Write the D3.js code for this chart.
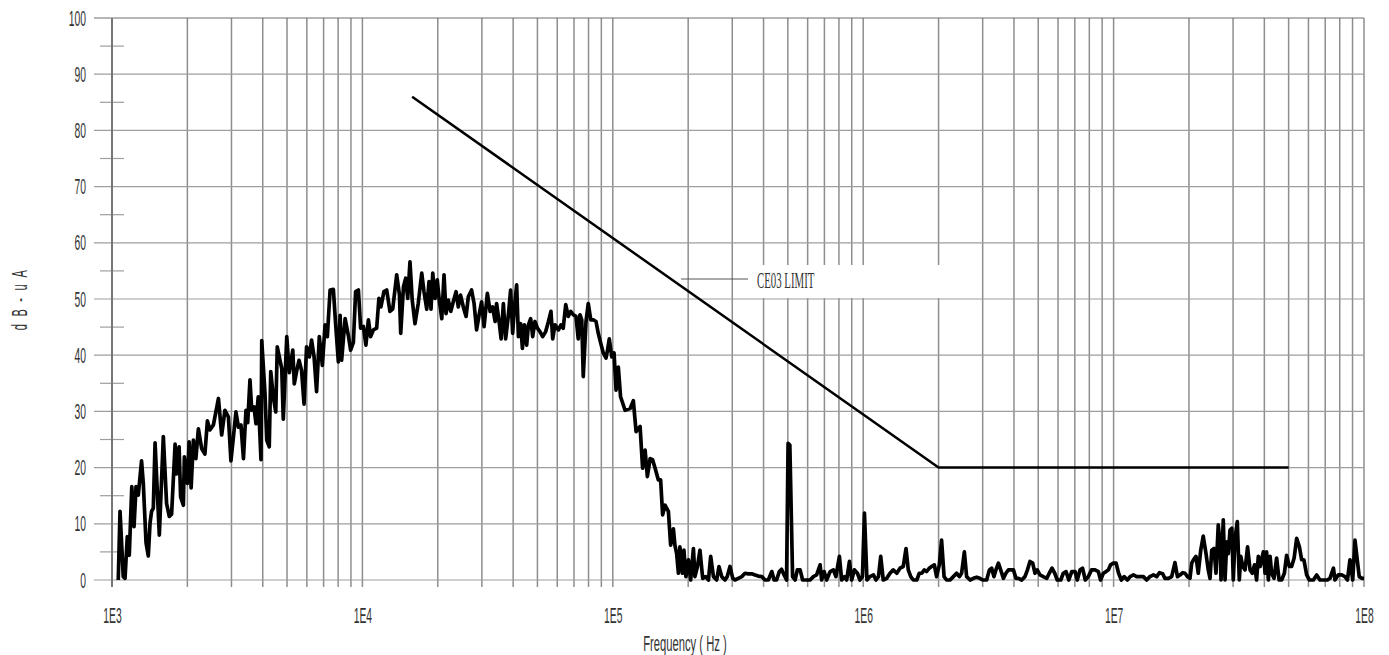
<!DOCTYPE html>
<html>
<head>
<meta charset="utf-8">
<script src="https://cdn.jsdelivr.net/npm/d3@7"></script>
<style>
  body { margin: 0; background: #fff; }
  svg { display: block; }
</style>
</head>
<body>
<div id="chart"></div>
<script>
// measured conducted emission, frequency given as log10(Hz)
const freqExp = [
  3.025,3.032,3.045,3.052,3.061,3.069,3.079,3.088,3.096,3.105,3.118,3.125,3.136,3.145,3.152,3.158,3.165,3.172,3.189,3.205,
  3.218,3.229,3.238,3.252,3.258,3.268,3.274,3.285,3.289,3.301,3.308,3.316,3.325,3.335,3.345,3.358,3.371,3.381,3.391,3.405,
  3.425,3.438,3.451,3.465,3.475,3.485,3.495,3.505,3.515,3.525,3.535,3.542,3.551,3.558,3.567,3.575,3.584,3.595,3.598,3.611,
  3.618,3.628,3.634,3.644,3.654,3.660,3.671,3.678,3.684,3.698,3.708,3.722,3.728,3.738,3.747,3.757,3.767,3.777,3.788,3.797,
  3.807,3.817,3.828,3.840,3.851,3.860,3.871,3.884,3.893,3.904,3.911,3.917,3.931,3.944,3.953,3.964,3.973,3.984,3.993,
  4.004,4.014,4.024,4.033,4.044,4.057,4.066,4.074,4.086,4.097,4.110,4.121,4.137,4.148,4.153,4.164,4.173,4.181,4.190,4.199,
  4.210,4.223,4.237,4.246,4.257,4.266,4.274,4.281,4.290,4.299,4.307,4.317,4.326,4.334,4.343,4.353,4.363,4.374,4.383,4.392,
  4.403,4.414,4.423,4.436,4.446,4.456,4.467,4.476,4.486,4.499,4.510,4.520,4.530,4.536,4.547,4.554,4.563,4.572,4.583,4.592,
  4.600,4.607,4.616,4.623,4.632,4.639,4.647,4.656,4.663,4.672,4.680,4.689,4.699,4.709,4.720,4.732,4.743,4.753,4.760,4.769,
  4.783,4.793,4.802,4.812,4.822,4.832,4.842,4.853,4.862,4.869,4.876,4.882,4.893,4.902,4.912,4.922,4.933,4.942,4.952,4.962,
  4.973,4.979,4.986,4.996,5.005,5.013,5.022,5.031,
  5.049,5.069,5.082,5.093,5.102,5.109,5.119,5.129,5.138,5.149,5.159,5.169,5.182,5.191,5.199,5.209,5.222,5.231,5.242,5.248,
  5.255,5.262,5.268,5.278,5.284,5.292,5.302,5.311,5.322,5.328,5.338,5.348,5.359,5.371,5.382,5.391,5.402,5.415,5.424,5.435,
  5.448,5.457,5.468,5.479,5.488,5.501,5.515,5.528,5.541,5.555,5.568,5.581,5.595,5.608,5.621,5.635,5.644,5.654,5.665,5.674,
  5.684,5.694,5.700,5.707,5.718,5.728,5.737,5.748,5.758,5.774,5.788,5.801,5.814,5.828,5.834,5.844,5.854,5.868,5.881,5.891,
  5.905,5.914,5.925,5.934,5.945,5.954,5.965,5.977,5.987,5.997,6.005,6.015,6.027,6.041,6.051,6.061,6.070,6.080,6.094,
  6.107,6.120,6.134,6.147,6.160,6.171,6.180,6.190,6.200,6.214,6.224,6.234,6.244,6.253,6.264,6.273,6.284,6.293,6.304,6.313,
  6.323,6.333,6.347,6.360,6.373,6.384,6.393,6.404,6.413,6.427,6.440,6.453,6.466,6.477,6.493,6.504,6.513,6.522,6.530,6.540,
  6.549,6.560,6.570,6.580,6.589,6.600,6.610,6.620,6.633,6.646,6.656,6.666,6.677,6.686,6.695,6.706,6.719,6.733,6.743,6.754,
  6.765,6.775,6.789,6.799,6.810,6.821,6.833,6.846,6.855,6.866,6.876,6.887,6.899,6.912,6.926,6.939,6.948,6.959,6.970,6.979,
  6.988,6.999,7.010,7.020,7.031,7.042,7.055,7.066,7.079,7.092,7.105,7.119,7.132,7.145,
  7.159,7.172,7.183,7.196,7.205,7.219,7.232,7.245,7.255,7.265,7.276,7.285,7.295,7.305,7.312,7.319,7.329,7.338,7.348,7.358,
  7.369,7.378,7.385,7.392,7.401,7.409,7.418,7.425,7.429,7.438,7.445,7.452,7.458,7.465,7.472,7.478,7.485,7.494,7.502,7.508,
  7.516,7.525,7.535,7.545,7.554,7.563,7.571,7.578,7.585,7.591,7.598,7.605,7.611,7.618,7.625,7.631,7.641,7.651,7.661,7.671,
  7.682,7.691,7.702,7.711,7.721,7.731,7.742,7.751,7.760,7.771,7.782,7.798,7.811,7.824,7.838,7.854,7.864,7.878,7.884,7.897,
  7.911,7.924,7.934,7.944,7.955,7.964,7.973,7.981,7.991,8.000
];

// level in dB-uA, one per freqExp entry
const level = [
  0,12.2,0.6,0.3,7.7,4.4,16.6,9.5,16.6,15.1,21.2,17.2,6.6,4.3,10.2,12.2,12.8,24.4,8.0,25.5,
  13.6,11.3,11.7,24.2,18.9,23.7,14.8,13.3,21.9,17.2,24.6,16.4,24.9,21.6,26.9,23.4,22.4,28.3,26.7,27.6,
  32.3,25.8,30.2,29.0,21.2,25.5,29.9,27.2,27.6,21.6,30.2,28.0,35.6,30.2,30.8,27.8,32.6,21.4,42.6,33.2,
  24.9,23.7,37.1,32.6,29.9,41.5,39.1,37.6,28.6,43.3,36.9,40.9,34.9,37.3,39.1,37.3,31.3,41.5,39.7,42.7,
  39.7,33.5,43.3,38.2,45.4,43.3,51.6,51.7,45.6,38.8,47.1,39.1,46.5,43.5,40.9,42.3,51.3,51.6,44.8,
  45.1,41.8,46.3,43.3,44.5,44.8,50.1,48.6,51.3,51.6,47.8,48.2,54.3,50.7,43.9,52.2,53.7,50.1,56.6,49.8,
  45.6,49.2,54.6,51.3,48.2,53.1,48.2,54.6,50.1,53.4,49.8,46.5,54.3,47.4,49.8,47.8,49.5,51.3,48.6,50.7,
  48.6,46.9,50.4,51.6,49.2,44.5,47.4,49.5,45.1,51.0,47.8,48.6,46.0,49.2,45.6,42.9,49.2,42.9,47.1,51.6,
  43.9,48.4,52.5,43.3,45.6,41.2,45.4,41.8,45.4,46.5,43.3,46.0,44.8,44.2,43.3,44.2,46.0,47.8,42.9,45.4,
  44.5,45.4,44.8,49.0,46.9,47.8,47.2,46.9,42.9,47.2,46.3,36.2,46.0,49.2,46.3,46.3,46.0,43.9,42.1,40.4,
  39.5,40.9,42.9,39.7,40.4,33.8,37.9,32.6,
  30.2,30.5,31.9,26.4,27.0,27.3,19.9,23.1,18.4,21.6,21.4,19.9,17.8,17.8,11.6,13.3,12.2,6.2,9.1,6.2,
  4.7,1.2,5.9,1.2,5.3,0.6,3.6,0,5.6,0.6,2.4,5.3,0.3,0.6,0,4.2,0.6,0,2.4,0.6,
  0,0.6,2.4,0.3,0,0.3,0.6,1.2,1.1,1.1,0.9,0.7,0.6,0,0,1.5,0,0,1.5,1.9,
  0.9,0,24.3,24.0,0.6,0,1.8,1.8,0,0,0,0.6,0.9,2.7,0,1.5,0,1.5,1.8,0.6,
  4.2,0,0.6,0,3.3,0,1.8,1.2,0,0.6,11.9,0,0.6,0.9,0,0.6,4.2,0,0.3,
  1.2,1.8,1.2,2.1,2.4,5.6,1.8,0.6,0,0,1.2,1.2,1.8,1.5,2.1,2.4,2.7,0.6,2.7,7.1,
  0.6,0,0,0.6,1.2,0.6,1.2,5.0,0.6,0,0.3,0.5,0.3,0,0,1.8,2.1,0.6,1.8,3.0,
  1.8,0.3,1.2,1.8,1.8,1.8,0.3,0.3,0,0.6,1.8,3.3,3.0,1.2,1.8,0.9,0.6,0.3,1.2,2.1,
  1.2,0,0,1.2,1.5,0,1.5,1.5,0,1.8,2.1,0,0.6,1.8,1.8,1.5,0,1.2,1.5,1.8,
  2.7,3.0,3.0,1.2,0,0.6,0,0.6,0.9,0.6,0.6,0.6,0,0.6,
  0.9,0.6,1.3,1.1,0.3,0.3,0.6,3.1,0.6,0.9,1.3,1.2,0.6,0.3,3.0,3.6,4.2,1.2,5.3,7.8,
  4.7,1.8,0.3,5.3,5.6,1.2,9.8,6.5,0,10.7,0,6.8,4.7,8.9,9.2,0,7.4,10.4,0,4.2,
  2.4,1.8,5.9,1.8,1.2,2.7,0,4.2,2.4,3.6,5.0,1.2,5.0,0,4.2,1.2,0.3,3.9,0,0,
  1.2,4.4,2.4,2.4,3.9,7.4,5.9,3.6,3.6,0.9,0,0,0.9,0,0,0,0.3,2.1,0,0.9,
  0.9,0.6,0,3.6,0,7.1,3.6,0.6,0.3,0.3
];

// CE03 limit corners
const limitFreq = [15.8e3, 2e6, 5e7];
const limitLevel = [86, 20, 20];

const yTicks = [0, 10, 20, 30, 40, 50, 60, 70, 80, 90, 100];
const yMinor = [5, 15, 25, 35, 45, 55, 65, 75, 85, 95];
const xDecades = [1e3, 1e4, 1e5, 1e6, 1e7, 1e8];

const W = 1389, H = 655;
const SQ = 0.47; // horizontal squeeze of the lettering
const INK = "#333";

const svg = d3.select("#chart").append("svg")
    .attr("width", W)
    .attr("height", H);

const x = d3.scaleLog().domain([1e3, 1e8]).range([112, 1364]);
const y = d3.scaleLinear().domain([0, 100]).range([580, 18]);

// vertical grid, every 1..9 of each decade
svg.append("g")
    .selectAll("line")
    .data(x.ticks())
    .enter().append("line")
    .attr("x1", d => x(d)).attr("x2", d => x(d))
    .attr("y1", y(100)).attr("y2", y(0) + 7)
    .attr("stroke", "#8e8e8e")
    .attr("stroke-width", 1.5);

// horizontal grid
svg.append("g")
    .selectAll("line")
    .data(yTicks)
    .enter().append("line")
    .attr("x1", 94).attr("x2", x(1e8))
    .attr("y1", d => y(d)).attr("y2", d => y(d))
    .attr("stroke", d => d === 100 ? "#6e6e6e" : "#9e9e9e")
    .attr("stroke-width", 1.2);

svg.append("g")
    .selectAll("line")
    .data(yMinor)
    .enter().append("line")
    .attr("x1", 100).attr("x2", 124)
    .attr("y1", d => y(d)).attr("y2", d => y(d))
    .attr("stroke", "#9e9e9e")
    .attr("stroke-width", 1.2);

// left axis line
svg.append("line")
    .attr("x1", x(1e3)).attr("x2", x(1e3))
    .attr("y1", y(100)).attr("y2", y(0) + 7)
    .attr("stroke", "#767676")
    .attr("stroke-width", 2);

// y tick labels
const yAxis = svg.append("g")
    .attr("transform", `translate(${x(1e3)},0)`)
    .call(d3.axisLeft(y).tickValues(yTicks).tickSize(0).tickPadding(26));
yAxis.select(".domain").remove();
yAxis.selectAll("text")
    .attr("x", -26 / SQ)
    .attr("transform", `scale(${SQ},1)`)
    .style("font-family", "'Liberation Sans', Arial, sans-serif")
    .style("font-size", "22px")
    .attr("fill", INK);

// x tick labels
const xAxis = svg.append("g")
    .attr("transform", `translate(0,${y(0)})`)
    .call(d3.axisBottom(x).tickValues(xDecades).tickSize(0).tickPadding(27)
        .tickFormat(d => "1E" + Math.round(Math.log10(d))));
xAxis.select(".domain").remove();
xAxis.selectAll("text")
    .attr("transform", `scale(${SQ},1)`)
    .attr("x", 0)
    .style("font-family", "'Liberation Sans', Arial, sans-serif")
    .style("font-size", "22px")
    .attr("fill", INK);

// label box for the limit line
svg.append("rect")
    .attr("x", 750).attr("y", 265)
    .attr("width", 210).attr("height", 33)
    .attr("fill", "#fff");

svg.append("line")
    .attr("x1", 681).attr("x2", 748)
    .attr("y1", 279).attr("y2", 279)
    .attr("stroke", "#555")
    .attr("stroke-width", 1);

svg.append("text")
    .attr("transform", `translate(757,288) scale(${SQ},1)`)
    .style("font-family", "'Liberation Serif', 'Times New Roman', serif")
    .style("font-size", "23px")
    .attr("fill", INK)
    .text("CE03 LIMIT");

// axis titles
svg.append("text")
    .attr("transform", `translate(685,651) scale(0.51,1)`)
    .attr("text-anchor", "middle")
    .style("font-family", "'Liberation Sans', Arial, sans-serif")
    .style("font-size", "22px")
    .attr("fill", INK)
    .text("Frequency ( Hz )");

svg.append("text")
    .attr("transform", `translate(27,299) rotate(-90) scale(0.5,1)`)
    .attr("text-anchor", "middle")
    .style("font-family", "'Liberation Sans', Arial, sans-serif")
    .style("font-size", "22px")
    .style("letter-spacing", "4.5px")
    .attr("fill", INK)
    .text("d B - u A");

// limit line
const limit = limitFreq.map((f, i) => [f, limitLevel[i]]);
svg.append("path")
    .datum(limit)
    .attr("fill", "none")
    .attr("stroke", "#000")
    .attr("stroke-width", 2.5)
    .attr("d", d3.line().x(d => x(d[0])).y(d => y(d[1])));

// measured trace
const trace = freqExp.map((e, i) => [Math.pow(10, e), level[i]]);
svg.append("path")
    .datum(trace)
    .attr("fill", "none")
    .attr("stroke", "#000")
    .attr("stroke-width", 3.7)
    .attr("stroke-linejoin", "round")
    .attr("d", d3.line().x(d => x(d[0])).y(d => y(d[1])));
</script>
</body>
</html>
